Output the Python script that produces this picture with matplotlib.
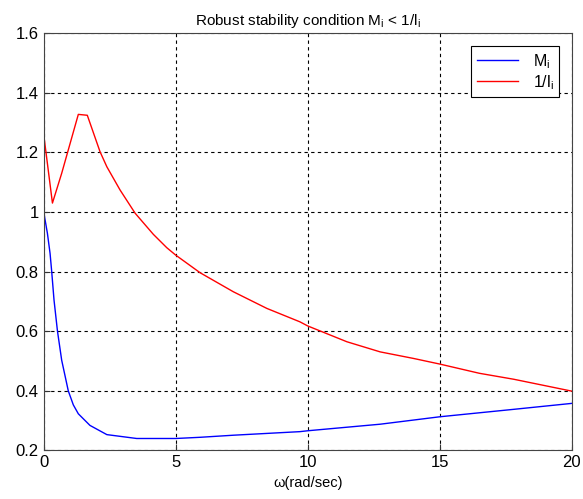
import numpy as np
import matplotlib.pyplot as plt

plt.rcParams['font.family'] = ['Liberation Sans', 'DejaVu Sans']

# frequency samples (rad/sec) and the two curves
w_inv = [0.0, 0.33, 0.68, 1.31, 1.65, 2.13, 2.39, 2.89, 3.46, 4.15, 4.66, 5.0,
         5.92, 7.18, 8.45, 9.7, 10.0, 11.48, 12.74, 14.0, 15.0, 16.5, 17.8, 20.0]
inv_li = [1.26, 1.03, 1.13, 1.328, 1.325, 1.203, 1.152, 1.074, 0.996, 0.925,
          0.880, 0.855, 0.796, 0.732, 0.676, 0.631, 0.617, 0.564, 0.530,
          0.508, 0.489, 0.458, 0.438, 0.398]

w_m = [0.0, 0.14, 0.24, 0.30, 0.39, 0.52, 0.68, 0.93, 1.12, 1.31, 1.75, 2.39,
       3.52, 5.0, 5.92, 7.18, 9.7, 10.0, 12.74, 15.0, 17.8, 20.0]
m_i = [1.0, 0.928, 0.861, 0.802, 0.704, 0.60, 0.502, 0.399, 0.352, 0.322,
       0.283, 0.252, 0.239, 0.239, 0.243, 0.25, 0.262, 0.265, 0.287, 0.312,
       0.337, 0.357]

fig = plt.figure(figsize=(5.83, 4.99), dpi=100)
ax = fig.add_axes([0.075, 0.098, 0.906, 0.835])

ax.plot(w_m, m_i, color='#0000ff', lw=1.0, label='M$_\\mathregular{i}$')
ax.plot(w_inv, inv_li, color='#ff0000', lw=1.0, label='1/l$_\\mathregular{i}$')

ax.set_xlim(0, 20)
ax.set_ylim(0.2, 1.6)
ax.set_xticks([0, 5, 10, 15, 20])
ax.set_yticks(np.arange(0.2, 1.61, 0.2))
ax.set_yticklabels(['0.2', '0.4', '0.6', '0.8', '1', '1.2', '1.4', '1.6'])
ax.tick_params(direction='in', labelsize=12, length=4, color='#333333')
ax.grid(True, color='black', linestyle=(0, (3, 3)), linewidth=0.8)
for s in ax.spines.values():
    s.set_color('#444444')

ax.set_title('Robust stability condition M$_\\mathregular{i}$ < 1/l$_\\mathregular{i}$',
             fontsize=11, pad=6)
ax.set_xlabel('ω(rad/sec)', fontsize=10.5)

leg = ax.legend(loc='upper right', fontsize=11.5, fancybox=False,
                framealpha=1, edgecolor='black', handlelength=2.6,
                borderpad=0.35, labelspacing=0.15, handletextpad=0.9,
                borderaxespad=0.8)
leg.get_frame().set_linewidth(0.8)

fig.savefig('out.png', dpi=100)
